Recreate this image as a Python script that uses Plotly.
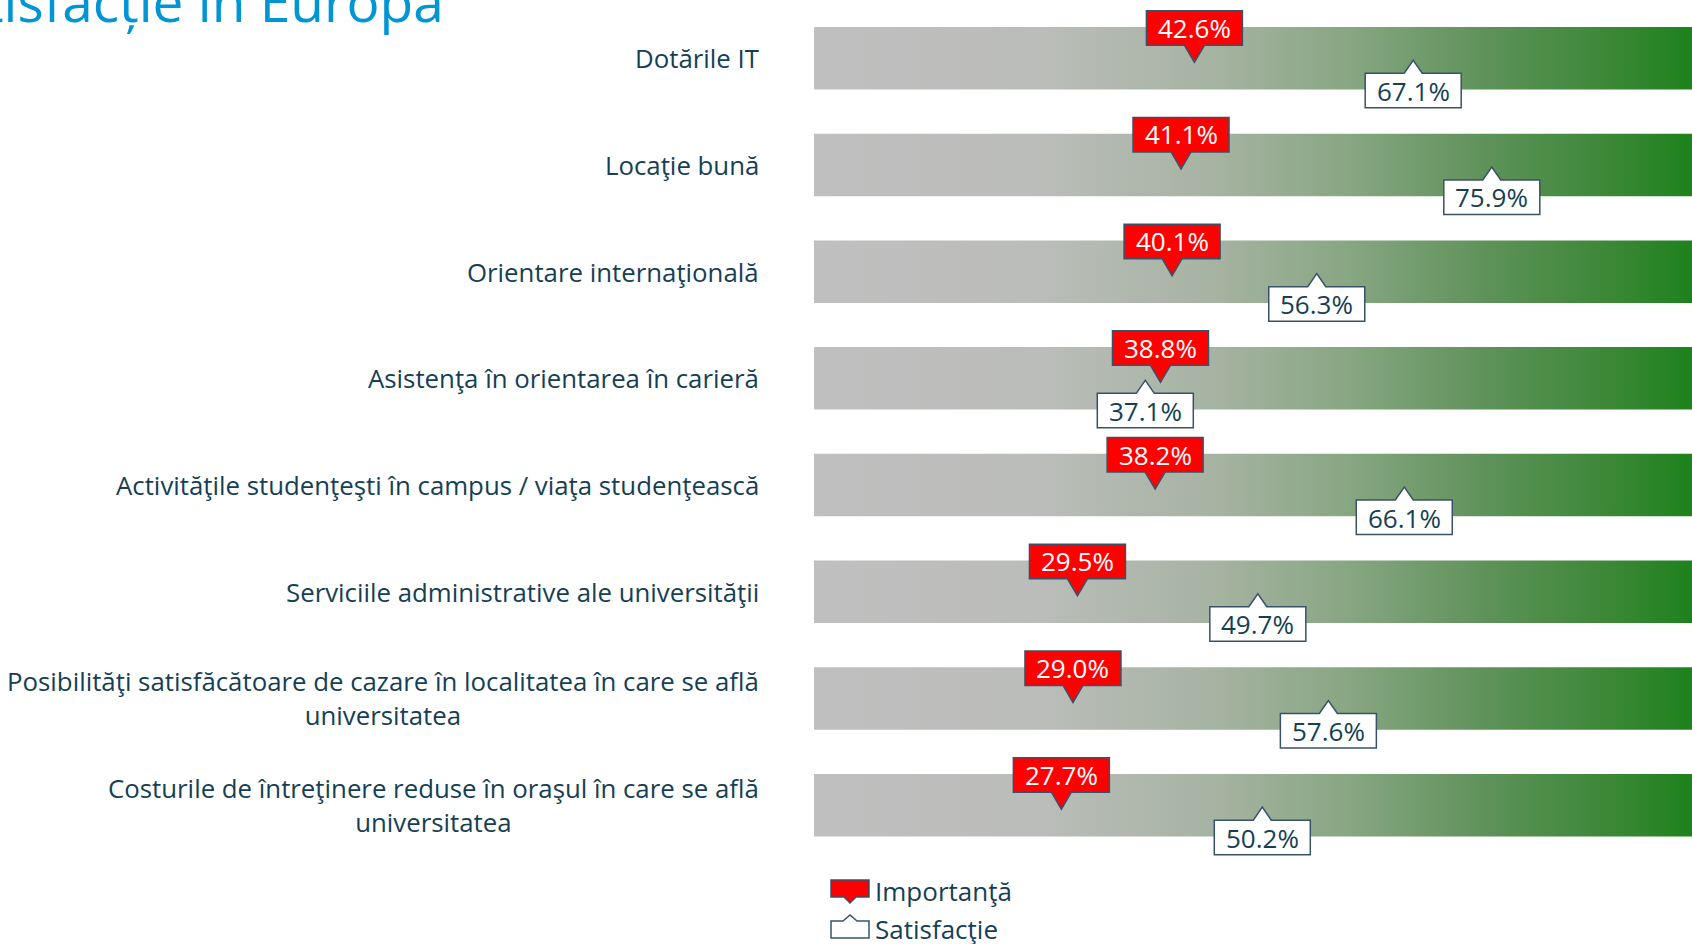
import plotly.graph_objects as go

categories = [
    "Dotările IT",
    "Locaţie bună",
    "Orientare internaţională",
    "Asistenţa în orientarea în carieră",
    "Activităţile studenţeşti în campus / viaţa studenţească",
    "Serviciile administrative ale universităţii",
    "Posibilităţi satisfăcătoare de cazare în localitatea în care se află<br>universitatea",
    "Costurile de întreţinere reduse în oraşul în care se află<br>universitatea",
]
importance = [42.6, 41.1, 40.1, 38.8, 38.2, 29.5, 29.0, 27.7]
satisfaction = [67.1, 75.9, 56.3, 37.1, 66.1, 49.7, 57.6, 50.2]
scale_max = 100
series_names = ["Importanţă", "Satisfacţie"]
title_text = "Importanță și satisfacție în Europa"

W, H = 1692, 944
L = 814
px_per_unit = 8.93
x_max = (W - L) / px_per_unit
row_gap = 106.7
first_center = 58.25
y_top = -first_center / row_gap
y_bot = (H - first_center) / row_gap
half = 0.293

LABEL_COLOR = "#163f55"
BORDER = "#3a5268"
FONT = "Open Sans"

gradient = [
    [0.0, "#BFBFBF"], [0.25, "#BBBDBA"], [0.45, "#A6B3A2"], [0.6, "#87A682"],
    [0.75, "#5F925A"], [0.9, "#398734"], [1.0, "#188118"],
]

fig = go.Figure()
for i, cat in enumerate(categories):
    fig.add_trace(go.Scatter(
        x=[0, scale_max, scale_max, 0, 0],
        y=[i - half, i - half, i + half, i + half, i - half],
        fill="toself", mode="none",
        fillgradient=dict(type="horizontal", colorscale=gradient, start=0, stop=scale_max),
        hoverinfo="skip", showlegend=False,
    ))

shapes = []
annotations = []
red_path = "M-48,13 L-10,13 L0,-4 L10,13 L48,13 L48,47.5 L-48,47.5 Z"
white_path = "M-48,-15 L-9,-15 L0,-2 L9,-15 L48,-15 L48,-49.5 L-48,-49.5 Z"
for i in range(len(categories)):
    shapes.append(dict(type="path", xref="x", yref="y", xsizemode="pixel", ysizemode="pixel",
                       xanchor=satisfaction[i], yanchor=i, path=white_path,
                       fillcolor="white", line=dict(color=BORDER, width=1.5)))
    shapes.append(dict(type="path", xref="x", yref="y", xsizemode="pixel", ysizemode="pixel",
                       xanchor=importance[i], yanchor=i, path=red_path,
                       fillcolor="#FF0000", line=dict(color=BORDER, width=1.5)))
    annotations.append(dict(x=satisfaction[i], y=i, xref="x", yref="y", yshift=-32.5,
                            xanchor="center", yanchor="middle",
                            text=f"{satisfaction[i]:.1f}%", showarrow=False,
                            font=dict(family=FONT, size=26, color=LABEL_COLOR)))
    annotations.append(dict(x=importance[i], y=i, xref="x", yref="y", yshift=30.5,
                            xanchor="center", yanchor="middle",
                            text=f"{importance[i]:.1f}%", showarrow=False,
                            font=dict(family=FONT, size=26, color="white")))
    annotations.append(dict(x=(761 - L) / (W - L), y=i, xref="paper", yref="y",
                            xanchor="right", yanchor="middle", align="center",
                            text=categories[i], showarrow=False,
                            font=dict(family=FONT, size=25.8, color=LABEL_COLOR)))


def px_x(p):
    return (p - L) / (W - L)


def px_y(p):
    return 1 - p / H


# legend
shapes.append(dict(type="path", xref="paper", yref="paper", xsizemode="pixel", ysizemode="pixel",
                   xanchor=px_x(850), yanchor=px_y(892),
                   path="M-19,12 L19,12 L19,-5 L6,-5 L0,-11 L-6,-5 L-19,-5 Z",
                   fillcolor="#FF0000", line=dict(color=BORDER, width=1.5)))
shapes.append(dict(type="path", xref="paper", yref="paper", xsizemode="pixel", ysizemode="pixel",
                   xanchor=px_x(850), yanchor=px_y(929),
                   path="M-19,-9 L19,-9 L19,8 L7,8 L0,14 L-7,8 L-19,8 Z",
                   fillcolor="white", line=dict(color=BORDER, width=1.5)))
annotations.append(dict(x=px_x(873), y=px_y(891), xref="paper", yref="paper",
                        xanchor="left", yanchor="middle",
                        text=series_names[0], showarrow=False,
                        font=dict(family=FONT, size=26, color=LABEL_COLOR)))
annotations.append(dict(x=px_x(873), y=px_y(929), xref="paper", yref="paper",
                        xanchor="left", yanchor="middle",
                        text=series_names[1], showarrow=False,
                        font=dict(family=FONT, size=26, color=LABEL_COLOR)))

# title (partially cut off at the top-left, as in the reference)
annotations.append(dict(x=px_x(446), y=px_y(0), xref="paper", yref="paper",
                        xanchor="right", yanchor="middle", text=title_text, showarrow=False,
                        font=dict(family=FONT, size=55, color="#0095D3")))

fig.update_layout(
    width=W, height=H,
    margin=dict(l=L, r=0, t=0, b=0),
    paper_bgcolor="white", plot_bgcolor="white",
    xaxis=dict(range=[0, x_max], visible=False, fixedrange=True),
    yaxis=dict(range=[y_bot, y_top], visible=False, fixedrange=True),
    shapes=shapes, annotations=annotations, showlegend=False,
)

fig.write_html("out.html", config={"displayModeBar": False},
               post_script="document.body.style.margin='0';document.body.style.overflow='hidden';")
